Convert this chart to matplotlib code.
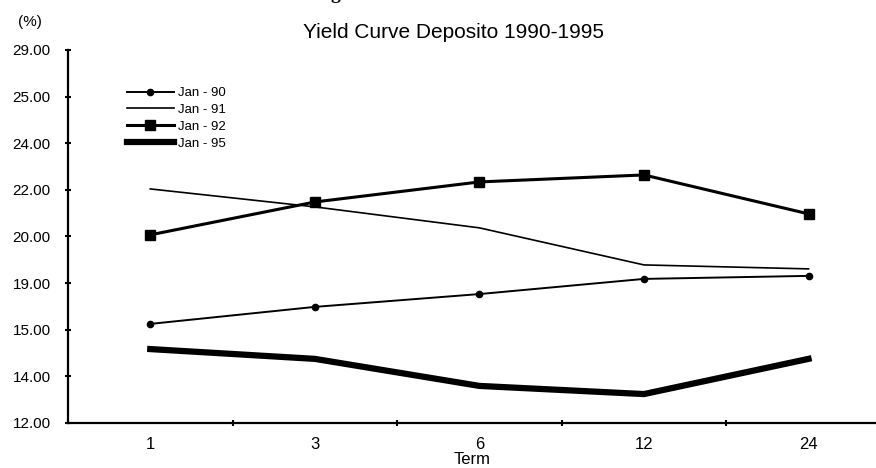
import matplotlib.pyplot as plt
from matplotlib.ticker import FixedLocator

# Terms (months) on the x axis
terms = ["1", "3", "6", "12", "24"]

# Yield values (%)
jan_90 = [16.25, 16.98, 17.53, 18.18, 18.31]
jan_91 = [22.04, 21.27, 20.37, 18.78, 18.61]
jan_92 = [20.07, 21.48, 22.34, 22.64, 20.97]
jan_95 = [15.17, 14.75, 13.59, 13.24, 14.75]

# Tick labels as printed on the scanned chart
y_ticks = [12, 14, 16, 18, 20, 22, 24, 26, 28]
y_tick_labels = ["12.00", "14.00", "15.00", "19.00", "20.00",
                 "22.00", "24.00", "25.00", "29.00"]

plt.rcParams['font.family'] = ['Liberation Sans', 'DejaVu Sans']
narrow = ['Liberation Sans Narrow', 'Liberation Sans', 'DejaVu Sans']

fig = plt.figure(figsize=(8.76, 4.68), dpi=100)
ax = fig.add_axes([0.0776, 0.0962, 0.9224, 0.797])

x = range(len(terms))
ax.plot(x, jan_90, color='black', lw=1.4, marker='o', ms=4.5, label="Jan - 90")
ax.plot(x, jan_91, color='black', lw=1.2, label="Jan - 91")
ax.plot(x, jan_92, color='black', lw=2.2, marker='s', ms=7.5, label="Jan - 92")
ax.plot(x, jan_95, color='black', lw=4.5, solid_joinstyle='miter', label="Jan - 95")

ax.set_xlim(-0.5, 4.41)
ax.set_ylim(12, 28)

# Axes: only left and bottom lines
for side in ['top', 'right']:
    ax.spines[side].set_visible(False)
for side in ['left', 'bottom']:
    ax.spines[side].set_linewidth(1.6)

ax.set_yticks(y_ticks)
ax.set_yticklabels(y_tick_labels, fontsize=11)
ax.tick_params(axis='y', direction='inout', length=5, width=1.5, pad=10)

# Category labels without marks, boundary ticks between categories
ax.set_xticks(list(x))
ax.set_xticklabels(terms, family=narrow, fontsize=12)
ax.tick_params(axis='x', which='major', length=0, pad=10)
ax.xaxis.set_minor_locator(FixedLocator([0.5, 1.5, 2.5, 3.5]))
ax.tick_params(axis='x', which='minor', direction='inout', length=5, width=1.5)
ax.set_xlabel("Term", family=narrow, fontsize=12, labelpad=0)

ax.legend(loc='upper left', bbox_to_anchor=(0.067, 0.915), frameon=False,
          prop={'family': narrow, 'size': 9.5}, handlelength=3.5,
          handletextpad=0.3, labelspacing=0.35, borderaxespad=0)

fig.text(0.518, 0.93, "Yield Curve Deposito 1990-1995", ha='center', va='center',
         fontsize=15)
fig.text(0.034, 0.953, "(%)", ha='center', va='center', fontsize=11)
# Cut-off heading fragment at the very top
fig.text(0.383, 1.012, "g", ha='center', va='center', fontsize=14,
         family='Liberation Serif', weight='bold')

fig.savefig("out.png", dpi=100)
